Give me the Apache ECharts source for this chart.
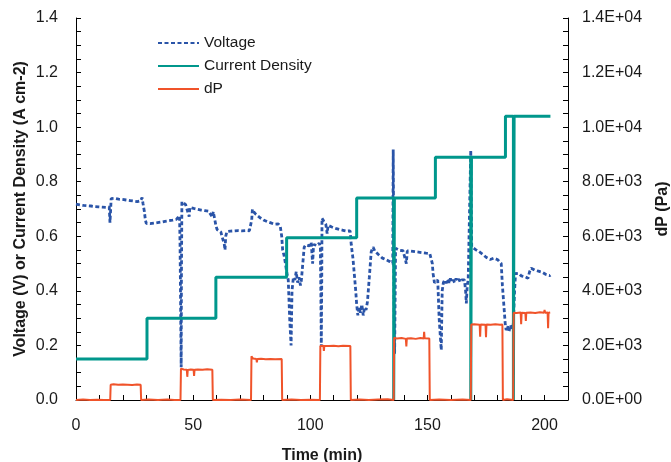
<!DOCTYPE html>
<html>
<head>
<meta charset="utf-8">
<script src="https://cdn.jsdelivr.net/npm/echarts@6/dist/echarts.min.js"></script>
<style>
html,body{margin:0;padding:0;background:#fff;}
#chart{width:671px;height:462px;}
</style>
</head>
<body>
<div id="chart"></div>
<script>
// ---- Data ----
const seriesNames = ['Voltage', 'Current Density', 'dP'];

// Voltage (V) vs time (min)
const voltT = [0,0.8,1.6,2.4,3.2,4,4.8,5.6,6.4,7.2,8,8.8,9.6,10.4,11.2,12,12.8,13.6,14.2,14.5,14.8,15.0,
15.8,16.6,17.4,18.2,19,19.8,20.6,21.4,22.2,23,23.8,24.6,25.4,26.2,27,27.6,28.2,28.6,29.2,29.6,
30,30.8,31.6,32.4,33.2,34,34.8,35.6,36.4,37.2,38,38.8,39.6,40.4,41.2,42,42.8,43.6,44.2,
44.4,44.6,44.8,44.9,45.0,45.2,
46,46.8,47.6,48.3,48.6,49.4,50.2,51,51.8,52.6,53.4,54.2,55,55.8,56.6,57.4,58.2,58.6,59.3,59.7,60.2,
61,61.8,62.6,63.3,63.6,63.9,64.4,65.2,66,66.8,67.6,68.4,69.2,70,70.8,71.6,72.4,73.2,74,74.6,75,75.3,
76,76.8,77.6,78.4,79.2,80,80.8,81.6,82.4,83.2,84,84.8,85.6,86.4,87.2,87.8,88.2,88.8,89.4,90.0,
90.6,91.2,91.8,92.2,92.8,93.4,94,94.6,95.2,95.8,96.2,96.8,97.4,98,98.8,99.6,100.4,101,101.4,102.2,103,103.8,104.3,
104.5,104.7,104.9,105.0,
105.8,106.6,107.2,107.6,108.4,109.2,110,110.8,111.6,112.4,113.2,114,114.8,115.6,116.4,117.0,
117.5,118.2,118.8,119.4,119.8,120.3,120.8,121.4,122,122.6,123.2,123.8,124.4,125.2,126,126.8,127.6,128.4,129.2,130,130.8,131.6,132.4,133.2,134,134.6,
135.2,135.4,135.6,135.8,136.0,136.4,
137.2,138,138.8,139.6,140.4,141,141.4,142.2,143,143.8,144.6,145.4,146.2,147,147.8,148.6,149.4,150.2,151,151.7,
152.1,152.4,153,153.8,154.4,155,155.9,156.3,156.8,157.4,158,158.6,159.2,159.8,160.4,161,161.6,162.2,162.8,163.4,164,164.6,165.2,165.8,166.3,166.6,167,167.4,168.0,
168.5,168.9,
169.6,170.4,171.2,172,172.8,173.6,174.4,175.2,176,176.8,177.6,178.4,179.2,180,180.8,181.5,
182,182.6,183.2,183.6,184.2,184.8,185.4,186,186.6,187.2,187.6,
188.4,189.2,190,190.8,191.6,192.4,192.9,193.6,194.3,195,195.8,196.6,197.4,198.2,199,199.8,200.6,201.4,202.2,202.5];
const voltV = [0.718,0.722,0.715,0.719,0.713,0.717,0.712,0.716,0.711,0.714,0.709,0.713,0.708,0.712,0.707,0.711,0.706,0.710,0.707,0.65,0.70,0.738,
0.735,0.739,0.733,0.736,0.731,0.735,0.730,0.733,0.728,0.731,0.726,0.729,0.724,0.727,0.722,0.73,0.742,0.72,0.69,0.66,
0.647,0.652,0.646,0.653,0.648,0.655,0.65,0.657,0.652,0.659,0.655,0.661,0.657,0.663,0.659,0.666,0.662,0.668,0.675,
0.58,0.40,0.20,0.12,0.45,0.727,
0.722,0.716,0.712,0.672,0.706,0.708,0.702,0.704,0.699,0.701,0.696,0.699,0.694,0.697,0.692,0.695,0.67,0.69,0.686,0.64,0.625,
0.62,0.616,0.621,0.57,0.55,0.60,0.617,0.613,0.619,0.614,0.62,0.615,0.621,0.616,0.62,0.615,0.621,0.616,0.62,0.617,0.66,0.699,
0.688,0.68,0.674,0.669,0.665,0.660,0.657,0.654,0.651,0.649,0.646,0.644,0.642,0.645,0.636,0.60,0.55,0.53,0.50,0.465,
0.44,0.30,0.20,0.40,0.45,0.44,0.47,0.43,0.45,0.42,0.44,0.50,0.56,0.568,0.575,0.565,0.578,0.50,0.57,0.572,0.566,0.575,0.56,
0.40,0.195,0.45,0.666,
0.655,0.645,0.61,0.64,0.637,0.634,0.632,0.629,0.627,0.625,0.623,0.622,0.62,0.619,0.617,0.62,
0.568,0.52,0.46,0.40,0.35,0.31,0.34,0.32,0.35,0.31,0.34,0.33,0.36,0.45,0.543,0.56,0.545,0.538,0.532,0.528,0.52,0.518,0.514,0.51,0.507,0.505,
0.50,0.918,0.60,0.30,0.17,0.556,
0.552,0.549,0.551,0.547,0.549,0.50,0.546,0.544,0.546,0.542,0.544,0.54,0.542,0.538,0.54,0.536,0.538,0.535,0.537,0.53,
0.50,0.464,0.43,0.434,0.44,0.30,0.183,0.40,0.43,0.44,0.428,0.442,0.43,0.445,0.432,0.44,0.43,0.445,0.435,0.443,0.432,0.44,0.435,0.44,0.40,0.354,0.42,0.44,0.436,
0.916,0.562,
0.558,0.552,0.548,0.544,0.54,0.534,0.528,0.522,0.516,0.515,0.518,0.52,0.517,0.514,0.513,0.50,
0.42,0.35,0.28,0.256,0.27,0.25,0.275,0.26,0.27,0.40,0.464,
0.458,0.463,0.455,0.46,0.452,0.455,0.446,0.47,0.483,0.48,0.476,0.479,0.472,0.474,0.468,0.466,0.46,0.462,0.456,0.458];

// Current density (A cm-2) vs time (min)
const cdT = [0,30.3,30.3,59.7,59.7,89.9,89.9,119.8,119.8,135.6,135.6,135.9,135.9,153.4,153.4,168.5,168.5,168.8,168.8,183.3,183.3,186.7,186.7,187.0,187.0,202.5];
const cdV = [0.15,0.15,0.30,0.30,0.45,0.45,0.595,0.595,0.74,0.74,0,0,0.74,0.74,0.89,0.89,0,0,0.89,0.89,1.04,1.04,0,0,1.04,1.04];

// dP (Pa) vs time (min)
const dpT = [0,3,6,9,12,14.6,14.8,16,18,20,22,24,26,27.6,27.8,31,35,39,42,44.6,
44.8,46,47.3,47.5,47.7,49,50.2,50.4,50.6,52,54,56,58.2,58.4,62,66,70,74.7,
74.9,75.6,77,77.2,77.4,79,81,83,85,87.8,88.0,92,96,100,104.1,
104.3,105,105.6,105.8,106,108,110,112,114,117.1,117.3,121,125,129,133,135.6,
135.8,137,139,140.8,141,141.2,143,145,147,148.4,148.6,148.8,150.8,151,155,160,165,168.5,
168.7,170,172.3,172.5,172.7,174.8,175,175.2,177,179,181,182.0,182.2,184,186.6,
186.8,188,189.8,190,190.2,191.8,192,192.2,194,196,198,199.8,200,200.2,201.3,201.5,201.7,202.4];
const dpV = [0,20,0,10,0,0,560,575,555,565,560,550,565,560,0,20,0,15,0,0,
1150,1120,1110,850,1100,1120,1110,880,1110,1120,1110,1125,1110,0,10,0,15,0,
1600,1520,1500,1380,1500,1510,1490,1505,1495,1500,0,20,0,10,0,
1980,1970,1990,1800,1980,1975,1985,1970,1990,1980,0,20,0,15,30,0,
2280,2250,2270,2240,1960,2250,2260,2240,2270,2250,2500,2260,2250,0,20,0,15,0,
2770,2780,2760,2320,2770,2760,2300,2770,2760,2775,2760,2770,0,30,0,
3200,3190,3210,2780,3200,3190,2900,3200,3210,3190,3220,3200,3300,3200,3210,2630,3200,3210];

// Axis ticks
const xTicks = [0, 50, 100, 150, 200];
const yLeftTicks = [0.0, 0.2, 0.4, 0.6, 0.8, 1.0, 1.2, 1.4];
const yRightTicks = [0, 2000, 4000, 6000, 8000, 10000, 12000, 14000];

// ---- Build ----
const zip = (a, b) => a.map((v, i) => [v, b[i]]);
const FONT = 'Liberation Sans, Arial, sans-serif';
const TXT = '#1a1a1a';
function sci(v) {
  if (v === 0) return '0.0E+00';
  const e = Math.floor(Math.log10(v) + 1e-9);
  const m = v / Math.pow(10, e);
  return m.toFixed(1) + 'E+' + String(e).padStart(2, '0');
}
const tickCommon = {show: true, inside: true, length: 5, lineStyle: {color: '#000', width: 1}};
const minorCommon = (n) => ({show: true, splitNumber: n, length: 5, lineStyle: {color: '#000', width: 1}});

const chart = echarts.init(document.getElementById('chart'), null, {renderer: 'canvas'});
chart.setOption({
  animation: false,
  backgroundColor: '#ffffff',
  textStyle: {fontFamily: FONT},
  grid: {left: 76, right: 103, top: 18, bottom: 62, containLabel: false, outerBoundsMode: 'none'},
  legend: {
    orient: 'vertical', left: 152, top: 30, itemWidth: 41, itemHeight: 14, itemGap: 7,
    data: seriesNames,
    itemStyle: {opacity: 0},
    textStyle: {fontFamily: FONT, fontSize: 15.5, color: TXT}
  },
  xAxis: {
    type: 'value', min: xTicks[0], max: 210, interval: 50,
    name: 'Time (min)', nameLocation: 'middle', nameGap: 48, nameMoveOverlap: false,
    nameTextStyle: {fontFamily: FONT, fontSize: 16, fontWeight: 'bold', color: TXT},
    axisLine: {show: true, onZero: false, lineStyle: {color: '#000', width: 1}},
    axisTick: tickCommon,
    minorTick: minorCommon(5),
    axisLabel: {fontFamily: FONT, fontSize: 16, color: TXT, margin: 18,
      formatter: v => (xTicks.indexOf(v) >= 0 ? String(v) : '')},
    splitLine: {show: false}
  },
  yAxis: [{
    type: 'value', min: 0, max: 1.4, interval: 0.2, position: 'left',
    name: 'Voltage (V) or Current Density (A cm-2)', nameLocation: 'middle', nameGap: 47, nameRotate: 90, nameMoveOverlap: false,
    nameTextStyle: {fontFamily: FONT, fontSize: 16, fontWeight: 'bold', color: TXT},
    axisLine: {show: true, onZero: false, lineStyle: {color: '#000', width: 1}},
    axisTick: tickCommon,
    minorTick: minorCommon(4),
    axisLabel: {fontFamily: FONT, fontSize: 16, color: TXT, margin: 18,
      formatter: v => yLeftTicks.some(t => Math.abs(t - v) < 1e-9) ? v.toFixed(1) : ''},
    splitLine: {show: false}
  }, {
    type: 'value', min: 0, max: 14000, interval: 2000, position: 'right',
    name: 'dP (Pa)', nameLocation: 'middle', nameGap: 87, nameRotate: 90, nameMoveOverlap: false,
    nameTextStyle: {fontFamily: FONT, fontSize: 16, fontWeight: 'bold', color: TXT},
    axisLine: {show: true, onZero: false, lineStyle: {color: '#000', width: 1}},
    axisTick: tickCommon,
    minorTick: minorCommon(4),
    axisLabel: {fontFamily: FONT, fontSize: 16, color: TXT, margin: 14,
      formatter: v => yRightTicks.indexOf(v) >= 0 ? sci(v) : ''},
    splitLine: {show: false}
  }],
  series: [{
    name: seriesNames[0], type: 'line', yAxisIndex: 0, data: zip(voltT, voltV),
    symbol: 'none', showSymbol: false,
    lineStyle: {color: '#2a54a8', width: 2.8, type: [4, 2.5]},
    itemStyle: {color: '#2a54a8'}
  }, {
    name: seriesNames[1], type: 'line', yAxisIndex: 0, data: zip(cdT, cdV),
    symbol: 'none', showSymbol: false,
    lineStyle: {color: '#00978c', width: 3},
    itemStyle: {color: '#00978c'}
  }, {
    name: seriesNames[2], type: 'line', yAxisIndex: 1, data: zip(dpT, dpV),
    symbol: 'none', showSymbol: false,
    lineStyle: {color: '#f0532a', width: 2},
    itemStyle: {color: '#f0532a'}
  }]
});
</script>
</body>
</html>
